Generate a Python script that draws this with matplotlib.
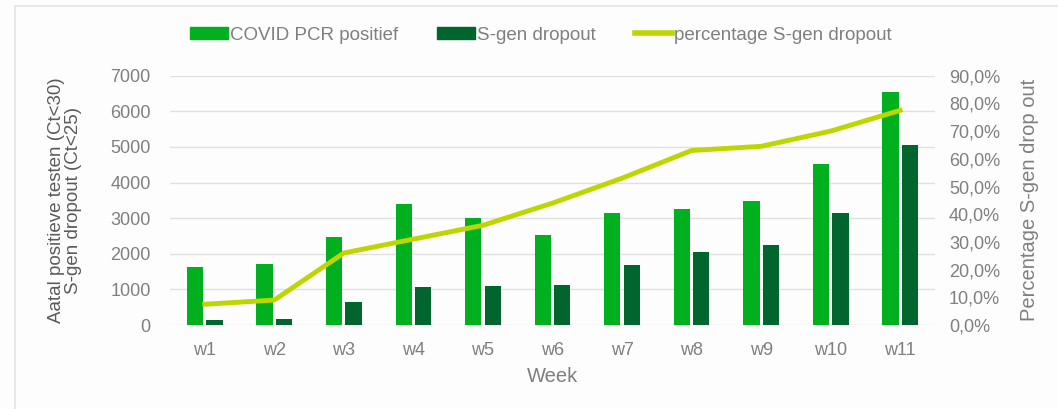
import numpy as np
import matplotlib.pyplot as plt
from matplotlib.patches import Patch
from matplotlib.lines import Line2D
from matplotlib.ticker import FuncFormatter

plt.rcParams['font.family'] = ['Liberation Sans', 'DejaVu Sans']

weeks = ['w1', 'w2', 'w3', 'w4', 'w5', 'w6', 'w7', 'w8', 'w9', 'w10', 'w11']
pcr_positief = [1640, 1700, 2480, 3400, 3000, 2530, 3140, 3250, 3480, 4510, 6540]
sgen_dropout = [140, 180, 650, 1060, 1100, 1120, 1685, 2040, 2250, 3150, 5055]
pct_dropout = [7.5, 9.0, 26.0, 31.0, 36.0, 44.0, 53.0, 63.0, 64.5, 70.0, 77.5]

light = '#00b01f'
dark = '#00662e'
lime = '#bdd600'
grey = '#7f7f7f'

fig = plt.figure(figsize=(10.58, 4.09), dpi=100)
fig.patch.set_facecolor('#fdfdfd')

# faint border top and left, like the original screenshot
fig.add_artist(Line2D([15 / 1058, 15 / 1058], [0, 1 - 6 / 409], color='#e6e6e6', lw=1.2))
fig.add_artist(Line2D([15 / 1058, 1], [1 - 6 / 409, 1 - 6 / 409], color='#e6e6e6', lw=1.2))

ax = fig.add_axes([170 / 1058, 84 / 409, 765 / 1058, 249.3 / 409])
ax.set_facecolor('none')
x = np.arange(len(weeks))
w = 0.235
ax.bar(x - 0.14, pcr_positief, width=w, color=light, zorder=3)
ax.bar(x + 0.14, sgen_dropout, width=w, color=dark, zorder=3)
ax.set_xlim(-0.5, len(weeks) - 0.5)
ax.set_ylim(0, 7000)
ax.set_yticks(range(0, 7001, 1000))
ax.set_xticks(x)
ax.set_xticklabels(weeks)
ax.grid(axis='y', color='#e0e0e0', lw=1, zorder=0)
for s in ax.spines.values():
    s.set_visible(False)
ax.tick_params(length=0, labelsize=13, colors=grey, pad=14)
ax.tick_params(axis='x', pad=12)
ax.set_xlabel('Week', fontsize=14.5, color=grey, labelpad=6)
ax.set_ylabel('Aatal positieve testen (Ct<30)\nS-gen dropout (Ct<25)', fontsize=13.5,
               color='#5a5a5a', labelpad=20, linespacing=1.0)

ax2 = ax.twinx()
ax2.plot(x, pct_dropout, color=lime, lw=3.5, zorder=4)
ax2.set_ylim(0, 90)
ax2.set_yticks(range(0, 91, 10))
ax2.yaxis.set_major_formatter(FuncFormatter(lambda v, p: f'{v:.1f}%'.replace('.', ',')))
for s in ax2.spines.values():
    s.set_visible(False)
ax2.tick_params(length=0, labelsize=13, colors=grey, pad=10)
ax2.set_ylabel('Percentage S-gen drop out', fontsize=14.5, color=grey, labelpad=14)

handles = [Patch(color=light), Patch(color=dark), Line2D([], [], color=lime, lw=4)]
labels = ['COVID PCR positief', 'S-gen dropout', 'percentage S-gen dropout']
fig.legend(handles, labels, loc='center', bbox_to_anchor=(541 / 1058, 1 - 35 / 409), ncol=3,
           frameon=False, fontsize=13.5, labelcolor=grey, handlelength=2.0, handleheight=0.55,
           handletextpad=0.1, columnspacing=2.1)

fig.savefig('out.png', dpi=100, facecolor=fig.get_facecolor())
